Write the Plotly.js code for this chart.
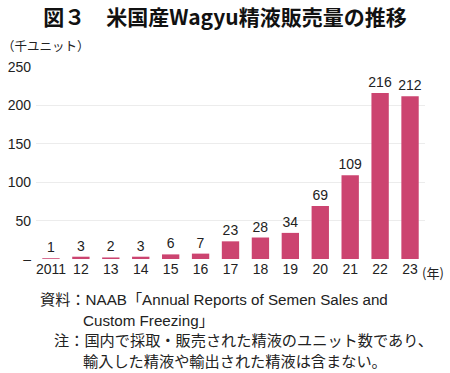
<!DOCTYPE html>
<html><head><meta charset="utf-8">
<script src="https://cdn.plot.ly/plotly-3.0.1.min.js"></script>
<style>html,body{margin:0;padding:0;background:#fff}</style>
</head><body><div id="chart" style="width:450px;height:373px"></div>
<script>
const years = ["2011","12","13","14","15","16","17","18","19","20","21","22","23"];
const units = [1,3,2,3,6,7,23,28,34,69,109,216,212];
const yTickVals = [0,50,100,150,200,250];
const yTickText = ["–","50","100","150","200","250"];

const W=450,H=373,L=36,R=25,T=67,B=114;
const pw=W-L-R, ph=H-T-B;
const px=x=>(x-L)/pw, py=y=>(H-B-y)/ph;
const numFont="'Liberation Sans', sans-serif";
const jpFont="'Liberation Sans', 'Noto Sans CJK JP', sans-serif";

const trace={type:"bar",x:years,y:units,marker:{color:"#cc4470"},
  text:units.map(String),textposition:"outside",cliponaxis:false,constraintext:"none",
  textfont:{family:numFont,size:14,color:"#222"},hoverinfo:"none"};

const ann=(x,y,text,opts={})=>Object.assign({xref:"paper",yref:"paper",x:px(x),y:py(y),text:text,showarrow:false,xanchor:"left",yanchor:"middle",font:{family:jpFont,size:15.2,color:"#222"}},opts);

const layout={width:W,height:H,margin:{l:L,r:R,t:T,b:B},paper_bgcolor:"#fff",plot_bgcolor:"#fff",
  bargap:0.42,showlegend:false,
  title:{text:"<b>図３　米国産Wagyu精液販売量の推移</b>",x:0.5,xref:"container",y:1-18/H,yref:"container",yanchor:"middle",font:{family:"'Noto Sans CJK JP', sans-serif",size:21,color:"#111"}},
  xaxis:{type:"category",tickfont:{family:numFont,size:14,color:"#222"},showgrid:false,zeroline:false,showline:false,ticks:""},
  yaxis:{range:[0,250],tickvals:yTickVals,ticktext:yTickText,tickfont:{family:numFont,size:14,color:"#222"},showgrid:true,gridcolor:"#ececec",gridwidth:1,zeroline:false,showline:false,ticks:"",ticklabelstandoff:4},
  annotations:[
    ann(0,45,"（千ユニット）",{font:{family:"'Noto Sans CJK JP', sans-serif",size:12.5,color:"#222"}}),
    ann(420,272,"(年)",{font:{family:"'Noto Sans CJK JP', sans-serif",size:13,color:"#222"}}),
    ann(38,299,"資料：NAAB「Annual Reports of Semen Sales and"),
    ann(81,320,"Custom Freezing」"),
    ann(52,340,"注：国内で採取・販売された精液のユニット数であり、"),
    ann(81,361,"輸入した精液や輸出された精液は含まない。")
  ]};
Plotly.newPlot("chart",[trace],layout,{displayModeBar:false,staticPlot:true});
</script></body></html>
